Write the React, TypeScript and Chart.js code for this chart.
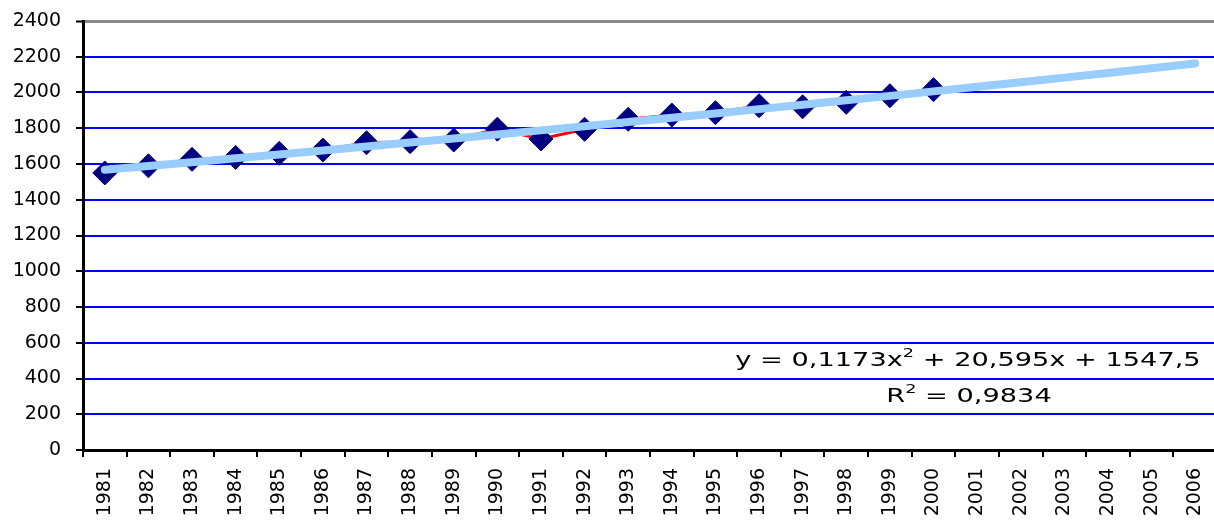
import { useEffect, useRef } from 'react';
import { Chart, registerables } from 'chart.js';

Chart.register(...registerables);

const years = [
  '1981', '1982', '1983', '1984', '1985', '1986', '1987', '1988', '1989', '1990',
  '1991', '1992', '1993', '1994', '1995', '1996', '1997', '1998', '1999', '2000',
  '2001', '2002', '2003', '2004', '2005', '2006',
];

const observed = [
  1550, 1590, 1626, 1637, 1660, 1678, 1719, 1725, 1734, 1795,
  1740, 1794, 1850, 1874, 1887, 1926, 1920, 1945, 1982, 2016,
];

const trendValues = [
  1568.2, 1589.2, 1610.3, 1631.8, 1653.4, 1675.3, 1697.4, 1719.8, 1742.4, 1765.2,
  1788.2, 1811.5, 1835.1, 1858.8, 1882.8, 1907.0, 1931.5, 1956.2, 1981.2, 2006.3,
  2031.7, 2057.4, 2083.2, 2109.3, 2135.7, 2162.3,
];

const yMin = 0;
const yMax = 2400;
const yStep = 200;

// equation label pieces: [text, isSuperscript]
const equationParts: [string, boolean][] = [
  ['y = 0,1173x', false],
  ['2', true],
  [' + 20,595x + 1547,5', false],
];
const rSquaredParts: [string, boolean][] = [
  ['R', false],
  ['2', true],
  [' = 0,9834', false],
];

const FONT = '"DejaVu Sans", Verdana, sans-serif';

function drawParts(
  ctx: CanvasRenderingContext2D,
  parts: [string, boolean][],
  cx: number,
  baseline: number,
  sx: number,
) {
  const normal = `20px ${FONT}`;
  const sup = `13px ${FONT}`;
  let total = 0;
  for (const [t, s] of parts) {
    ctx.font = s ? sup : normal;
    total += ctx.measureText(t).width;
  }
  ctx.save();
  ctx.translate(cx, baseline);
  ctx.scale(sx, 1);
  let x = -total / 2;
  ctx.textAlign = 'left';
  ctx.textBaseline = 'alphabetic';
  for (const [t, s] of parts) {
    ctx.font = s ? sup : normal;
    ctx.fillText(t, x, s ? -9 : 0);
    x += ctx.measureText(t).width;
  }
  ctx.restore();
}

const equationPlugin = {
  id: 'equationLabel',
  afterDraw(chart: any) {
    const ctx = chart.ctx as CanvasRenderingContext2D;
    ctx.save();
    ctx.fillStyle = '#000';
    drawParts(ctx, equationParts, 968, 366, 1.36);
    drawParts(ctx, rSquaredParts, 969, 402, 1.36);
    ctx.restore();
  },
};

export default function App() {
  const canvasRef = useRef<HTMLCanvasElement | null>(null);

  useEffect(() => {
    if (!canvasRef.current) return;
    const chart = new Chart(canvasRef.current, {
      type: 'line',
      data: {
        labels: years,
        datasets: [
          {
            label: 'Trend',
            data: trendValues,
            borderColor: '#99CCFF',
            backgroundColor: '#99CCFF',
            borderWidth: 8,
            borderCapStyle: 'round',
            borderJoinStyle: 'round',
            pointRadius: 0,
            pointHoverRadius: 0,
            tension: 0,
            fill: false,
          },
          {
            label: 'Observed',
            data: observed,
            borderColor: '#FF0000',
            backgroundColor: '#000080',
            borderWidth: 3,
            pointStyle: 'rectRot',
            pointRadius: 12,
            pointBackgroundColor: '#000080',
            pointBorderColor: '#000080',
            pointBorderWidth: 1,
            tension: 0,
            fill: false,
          },
        ],
      },
      options: {
        responsive: false,
        devicePixelRatio: 1,
        animation: false,
        layout: { padding: { top: 21, right: 10, left: 0, bottom: 0 } },
        plugins: {
          legend: { display: false },
          tooltip: { enabled: false },
          title: { display: false },
        },
        scales: {
          x: {
            type: 'category',
            offset: true,
            grid: {
              offset: true,
              drawOnChartArea: false,
              drawTicks: true,
              tickLength: 7,
              color: '#000',
              lineWidth: 2,
            },
            border: { color: '#000', width: 3 },
            ticks: {
              autoSkip: false,
              maxRotation: 90,
              minRotation: 90,
              padding: 11,
              color: '#000',
              font: { family: FONT, size: 19 },
            },
            afterFit: (scale: any) => {
              scale.height = 73;
              scale.paddingLeft = 0;
              scale.paddingRight = 0;
            },
          },
          y: {
            min: yMin,
            max: yMax,
            ticks: {
              stepSize: yStep,
              padding: 15,
              color: '#000',
              font: { family: FONT, size: 19 },
              callback: (v: any) => String(v),
            },
            grid: {
              color: (c: any) => (c.tick && c.tick.value === yMax ? '#888888' : '#0000FF'),
              lineWidth: (c: any) => (c.tick && c.tick.value === yMax ? 3 : 2),
              tickColor: '#000',
              tickWidth: 2,
              tickLength: 7,
            },
            border: { color: '#000', width: 3 },
            afterFit: (scale: any) => {
              scale.width = 83;
              scale.paddingTop = 0;
              scale.paddingBottom = 0;
            },
          },
        },
      },
      plugins: [equationPlugin],
    });
    return () => chart.destroy();
  }, []);

  return (
    <div
      style={{
        position: 'absolute',
        left: 0,
        top: 0,
        width: 1214,
        height: 523,
        overflow: 'hidden',
        background: '#fff',
      }}
    >
      <canvas ref={canvasRef} width={1230} height={523} style={{ display: 'block' }} />
    </div>
  );
}
